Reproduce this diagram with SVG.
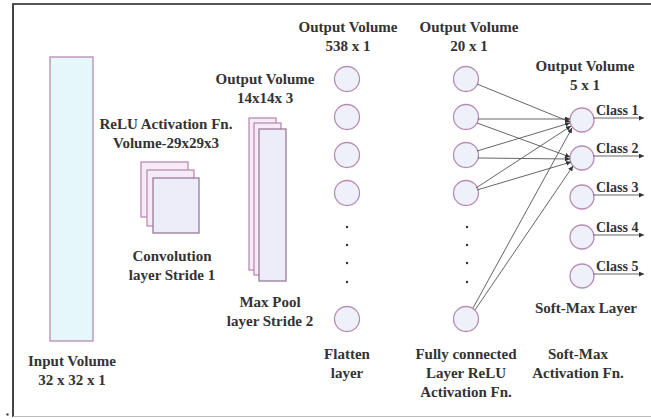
<svg xmlns="http://www.w3.org/2000/svg" width="651" height="419" viewBox="0 0 651 419">
<defs>
<style>
.t{font-family:"Liberation Serif","Times New Roman",serif;font-weight:bold;font-size:15px;fill:#333;text-anchor:middle}
.ts{font-family:"Liberation Serif","Times New Roman",serif;font-weight:bold;font-size:14px;fill:#333}
.vol{stroke:#b98cb4;stroke-width:1.3;fill:#e6f7fb}
.sh{stroke:#b98cb4;stroke-width:1.3;fill:#f6eaf6}
.fr{stroke:#9c7a9a;stroke-width:1.3;fill:#ecedf8}
.n{stroke:#b98cb4;stroke-width:1.3;fill:#eef0fa}
.c{stroke:#555;stroke-width:0.9;fill:none}
.dot{fill:#333}
</style>
<marker id="ah" viewBox="0 0 6 6" refX="6" refY="3" markerWidth="5" markerHeight="5" orient="auto" markerUnits="userSpaceOnUse">
<path d="M0,0 L6,3 L0,6 z" fill="#333"/>
</marker>
</defs>
<rect width="651" height="419" fill="#fff"/>
<g id="frame">
<line x1="12" y1="4" x2="651" y2="4" stroke="#555" stroke-width="2"/>
<line x1="13" y1="4" x2="13" y2="417" stroke="#444" stroke-width="2"/>
<line x1="13" y1="416.5" x2="651" y2="416.5" stroke="#bbb" stroke-width="1.2"/>
<rect x="6.5" y="413.5" width="2" height="2" fill="#222"/>
</g>
<g id="input">
<rect class="vol" x="50" y="57" width="43" height="284"/>
<text class="t" x="72" y="366">Input Volume</text>
<text class="t" x="72" y="385">32 x 32 x 1</text>
</g>
<g id="conv">
<rect class="sh" x="141" y="162" width="47" height="55"/>
<rect class="sh" x="147" y="170" width="47" height="56"/>
<rect class="fr" x="153" y="178" width="46" height="55"/>
<text class="t" x="166" y="129">ReLU Activation Fn.</text>
<text class="t" x="166" y="148">Volume-29x29x3</text>
<text class="t" x="172" y="261">Convolution</text>
<text class="t" x="172" y="280">layer Stride 1</text>
</g>
<g id="maxpool">
<rect class="sh" x="249" y="118" width="27" height="152"/>
<rect class="sh" x="254" y="123" width="27" height="152"/>
<rect class="fr" x="259" y="129" width="27" height="152"/>
<text class="t" x="265" y="84">Output Volume</text>
<text class="t" x="265" y="103">14x14x 3</text>
<text class="t" x="270" y="307">Max Pool</text>
<text class="t" x="270" y="326">layer Stride 2</text>
</g>
<g id="flatten">
<circle class="n" cx="347" cy="79" r="12.5"/>
<circle class="n" cx="347" cy="117" r="12.5"/>
<circle class="n" cx="347" cy="155" r="12.5"/>
<circle class="n" cx="347" cy="193" r="12.5"/>
<circle class="n" cx="347" cy="319" r="12.5"/>
<circle class="dot" cx="347" cy="227" r="1.2"/>
<circle class="dot" cx="347" cy="245" r="1.2"/>
<circle class="dot" cx="347" cy="263" r="1.2"/>
<circle class="dot" cx="347" cy="282" r="1.2"/>
<text class="t" x="348" y="32">Output Volume</text>
<text class="t" x="348" y="51">538 x 1</text>
<text class="t" x="347" y="359">Flatten</text>
<text class="t" x="347" y="378">layer</text>
</g>
<g id="fc">
<circle class="n" cx="466" cy="79" r="12.5"/>
<circle class="n" cx="466" cy="117" r="12.5"/>
<circle class="n" cx="466" cy="155" r="12.5"/>
<circle class="n" cx="466" cy="193" r="12.5"/>
<circle class="n" cx="466" cy="319" r="12.5"/>
<circle class="dot" cx="467" cy="227" r="1.2"/>
<circle class="dot" cx="467" cy="245" r="1.2"/>
<circle class="dot" cx="467" cy="263" r="1.2"/>
<circle class="dot" cx="467" cy="282" r="1.2"/>
<text class="t" x="469" y="32">Output Volume</text>
<text class="t" x="469" y="51">20 x 1</text>
<text class="t" x="466" y="359">Fully connected</text>
<text class="t" x="466" y="378">Layer ReLU</text>
<text class="t" x="466" y="397">Activation Fn.</text>
</g>
<g id="softmax">
<circle class="n" cx="582" cy="120" r="12"/>
<circle class="n" cx="582" cy="158" r="12"/>
<circle class="n" cx="582" cy="197" r="12"/>
<circle class="n" cx="582" cy="237" r="12"/>
<circle class="n" cx="582" cy="276" r="12"/>
<text class="ts" x="596" y="115">Class 1</text>
<text class="ts" x="596" y="153">Class 2</text>
<text class="ts" x="596" y="192">Class 3</text>
<text class="ts" x="596" y="232">Class 4</text>
<text class="ts" x="596" y="271">Class 5</text>
<text class="t" x="585" y="71">Output Volume</text>
<text class="t" x="585" y="90">5 x 1</text>
<text class="t" x="586" y="313">Soft-Max Layer</text>
<text class="t" x="578" y="359">Soft-Max</text>
<text class="t" x="578" y="378">Activation Fn.</text>
</g>
<g id="connectors">
<line class="c" x1="477" y1="84" x2="570" y2="122" marker-end="url(#ah)"/>
<line class="c" x1="478" y1="119" x2="570" y2="119" marker-end="url(#ah)"/>
<line class="c" x1="477" y1="123" x2="570" y2="157" marker-end="url(#ah)"/>
<line class="c" x1="477" y1="151" x2="570" y2="123" marker-end="url(#ah)"/>
<line class="c" x1="478" y1="158" x2="570" y2="159" marker-end="url(#ah)"/>
<line class="c" x1="476" y1="188" x2="571" y2="126" marker-end="url(#ah)"/>
<line class="c" x1="477" y1="190" x2="571" y2="162" marker-end="url(#ah)"/>
<line class="c" x1="473" y1="308" x2="572" y2="128" marker-end="url(#ah)"/>
<line class="c" x1="475" y1="310" x2="573" y2="166" marker-end="url(#ah)"/>
<line class="c" x1="593" y1="118" x2="644" y2="118" marker-end="url(#ah)"/>
<line class="c" x1="593" y1="156" x2="644" y2="156" marker-end="url(#ah)"/>
<line class="c" x1="593" y1="195" x2="644" y2="195" marker-end="url(#ah)"/>
<line class="c" x1="593" y1="235" x2="644" y2="235" marker-end="url(#ah)"/>
<line class="c" x1="593" y1="274" x2="644" y2="274" marker-end="url(#ah)"/>
</g>
</svg>
